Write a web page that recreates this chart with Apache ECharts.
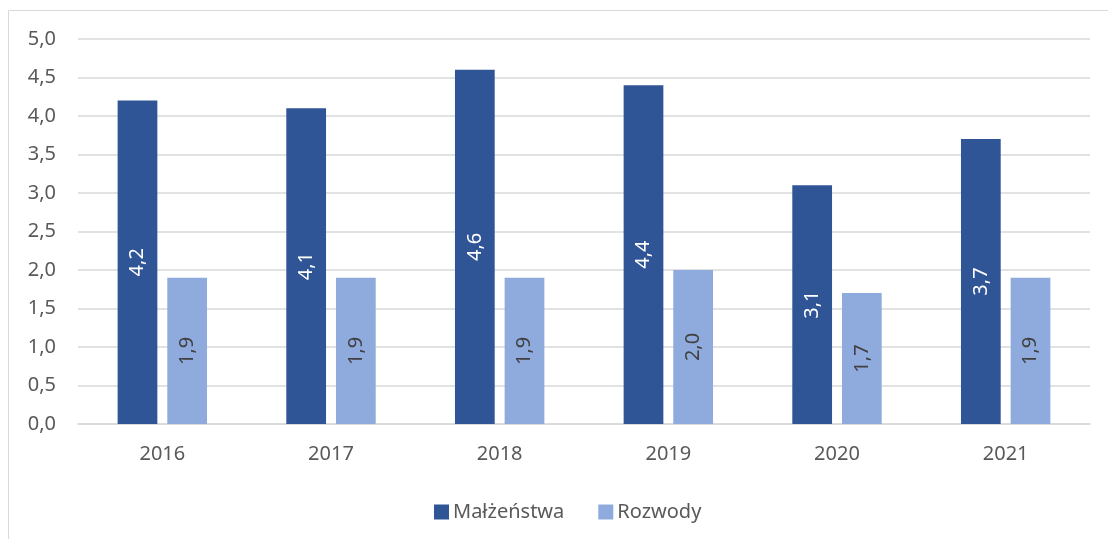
<!DOCTYPE html>
<html>
<head>
<meta charset="utf-8">
<script src="https://cdn.jsdelivr.net/npm/echarts@6/dist/echarts.min.js"></script>
<style>
  html, body { margin: 0; padding: 0; background: #fff; }
  #chart { width: 1108px; height: 539px; }
</style>
</head>
<body>
<div id="chart"></div>
<script>
const years = ['2016', '2017', '2018', '2019', '2020', '2021'];
const malzenstwa = [4.2, 4.1, 4.6, 4.4, 3.1, 3.7];
const rozwody = [1.9, 1.9, 1.9, 2.0, 1.7, 1.9];

const fmt = v => v.toFixed(1).replace('.', ',');
const font = '"Noto Sans", "Open Sans", sans-serif';

const chart = echarts.init(document.getElementById('chart'));
chart.setOption({
  animation: false,
  textStyle: { fontFamily: font },
  graphic: [{
    type: 'rect',
    shape: { x: 8.5, y: 10.5, width: 1200, height: 600 },
    style: { fill: 'none', stroke: '#d9d9d9', lineWidth: 1 },
    silent: true
  }],
  grid: { left: 78, right: 18, top: 39, bottom: 115 },
  legend: {
    top: 497,
    left: 429,
    itemWidth: 15,
    itemHeight: 15,
    itemGap: 34,
    icon: 'rect',
    textStyle: { fontSize: 20, color: '#595959', fontFamily: font, padding: [0, 0, 0, -1] },
    data: ['Małżeństwa', 'Rozwody']
  },
  xAxis: {
    type: 'category',
    data: years,
    axisLine: { lineStyle: { color: '#d9d9d9', width: 1.5 } },
    axisTick: { show: false },
    axisLabel: { fontSize: 20, color: '#595959', margin: 20, fontFamily: font }
  },
  yAxis: {
    type: 'value',
    min: 0,
    max: 5,
    interval: 0.5,
    axisLine: { show: false },
    axisTick: { show: false },
    splitLine: { lineStyle: { color: '#d9d9d9', width: 1.5 } },
    axisLabel: { fontSize: 20, color: '#595959', margin: 22, formatter: fmt, fontFamily: font }
  },
  series: [
    {
      name: 'Małżeństwa',
      type: 'bar',
      data: malzenstwa,
      barGap: '25%',
      barCategoryGap: '47%',
      itemStyle: { color: '#2f5597' },
      label: {
        show: true,
        position: 'inside',
        rotate: 90,
        color: '#ffffff',
        fontSize: 20,
        fontFamily: font,
        formatter: p => fmt(p.value)
      }
    },
    {
      name: 'Rozwody',
      type: 'bar',
      data: rozwody,
      itemStyle: { color: '#8faadc' },
      label: {
        show: true,
        position: 'inside',
        rotate: 90,
        color: '#404040',
        fontSize: 20,
        fontFamily: font,
        formatter: p => fmt(p.value)
      }
    }
  ]
});
</script>
</body>
</html>
